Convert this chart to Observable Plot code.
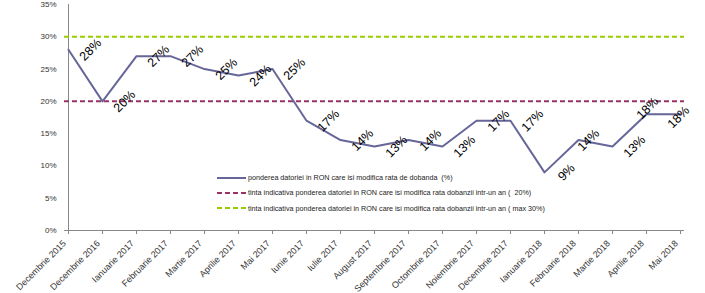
<!DOCTYPE html>
<html>
<head>
<meta charset="utf-8">
<script src="https://cdn.jsdelivr.net/npm/d3@7"></script>
<script src="https://cdn.jsdelivr.net/npm/@observablehq/plot@0.6"></script>
<style>
  html, body { margin: 0; padding: 0; background: #fff; }
  #wrap { position: relative; width: 705px; height: 293px; font-family: "Liberation Sans", Arial, sans-serif; }
  #legend { position: absolute; left: 217px; top: 170px; font-size: 7.2px; color: #222; }
  #legend .row { display: flex; align-items: center; height: 15.3px; white-space: pre; }
  #legend svg { display: block; margin-right: 2px; }
</style>
</head>
<body>
<div id="wrap"></div>
<script>
const categories = [
  "Decembrie 2015", "Decembrie 2016", "Ianuarie 2017", "Februarie 2017", "Martie 2017",
  "Aprilie 2017", "Mai 2017", "Iunie 2017", "Iulie 2017", "August 2017",
  "Septembrie 2017", "Octombrie 2017", "Noiembrie 2017", "Decembrie 2017", "Ianuarie 2018",
  "Februarie 2018", "Martie 2018", "Aprilie 2018", "Mai 2018"
];
const values = [28, 20, 27, 27, 25, 24, 25, 17, 14, 13, 14, 13, 17, 17, 9, 14, 13, 18, 18];
const targetIndicative = 20;
const targetMax = 30;
const yTicks = [0, 5, 10, 15, 20, 25, 30, 35];
const seriesNames = [
  "ponderea datoriei in RON care isi modifica rata de dobanda  (%)",
  "tinta indicativa ponderea datoriei in RON care isi modifica rata dobanzii intr-un an (  20%)",
  "tinta indicativa ponderea datoriei in RON care isi modifica rata dobanzii intr-un an ( max 30%)"
];
const colors = ["#666699", "#993366", "#99cc00"];

const data = categories.map((c, i) => ({cat: c, v: values[i], i}));
const n = data.length;
// label placement groups (as in the original Excel labels)
const mainLabels = data.filter(d => d.i < n - 4 || d.i === n - 3);
const febLabel = data.filter(d => d.i === n - 4);
const aprLabel = data.filter(d => d.i === n - 2);
const lastLabel = data.filter(d => d.i === n - 1);

const labelOpts = {x: "cat", y: "v", text: d => d.v + "%", rotate: -45, fontSize: 12.5, fill: "#000"};

const chart = Plot.plot({
  width: 705,
  height: 293,
  marginLeft: 64,
  marginRight: 21,
  marginTop: 4,
  marginBottom: 63,
  style: {fontFamily: "'Liberation Sans', Arial, sans-serif", color: "#333", background: "#fff"},
  x: {type: "point", domain: categories, padding: 0, label: null},
  y: {domain: [0, 35], label: null},
  marks: [
    Plot.ruleX([categories[0]], {stroke: "#888", strokeWidth: 1}),
    Plot.ruleY([0], {stroke: "#888", strokeWidth: 1}),
    Plot.ruleY([targetMax], {stroke: colors[2], strokeWidth: 2, strokeDasharray: "5,3"}),
    Plot.ruleY([targetIndicative], {stroke: colors[1], strokeWidth: 2, strokeDasharray: "5,3"}),
    Plot.line(data, {x: "cat", y: "v", stroke: colors[0], strokeWidth: 2}),
    Plot.text(mainLabels, {...labelOpts, dx: 22}),
    Plot.text(febLabel, {...labelOpts, dx: 10}),
    Plot.text(aprLabel, {...labelOpts, dx: 1, dy: -6}),
    Plot.text(lastLabel, {...labelOpts, dx: -2, dy: 3}),
    Plot.axisY({ticks: yTicks, tickSize: 0, tickPadding: 8, fontSize: 8, tickFormat: d => d + "%", label: null}),
    Plot.axisX({tickSize: 4, stroke: "#888", text: null, label: null}),
    Plot.axisX({tickSize: 0, tickPadding: 8, tickRotate: -45, fontSize: 9, dx: -4, dy: 3.5, label: null})
  ]
});

const wrap = document.getElementById("wrap");
wrap.appendChild(chart);

const legend = document.createElement("div");
legend.id = "legend";
seriesNames.forEach((name, i) => {
  const row = document.createElement("div");
  row.className = "row";
  const dash = i === 0 ? "" : ' stroke-dasharray="5,3"';
  row.innerHTML = `<svg width="29" height="4"><line x1="0" x2="29" y1="2" y2="2" stroke="${colors[i]}" stroke-width="2"${dash}/></svg><span>${name}</span>`;
  legend.appendChild(row);
});
wrap.appendChild(legend);
</script>
</body>
</html>
